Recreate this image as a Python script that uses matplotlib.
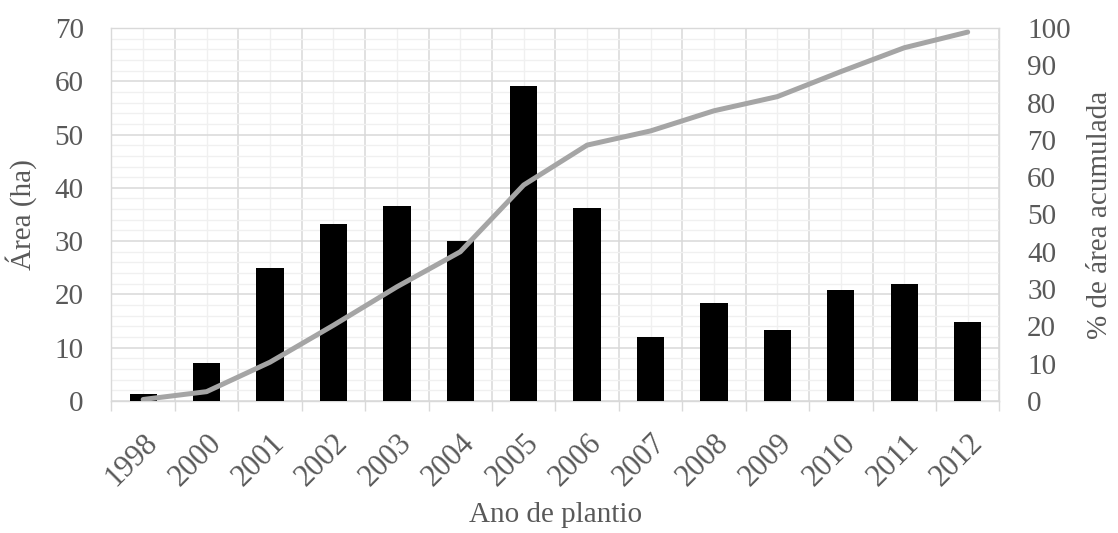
import matplotlib
matplotlib.use("Agg")
import matplotlib.pyplot as plt
import matplotlib.transforms as mtrans
import numpy as np

years = ["1998", "2000", "2001", "2002", "2003", "2004", "2005", "2006",
         "2007", "2008", "2009", "2010", "2011", "2012"]
area_ha = [1.3, 7.1, 25.0, 33.3, 36.6, 30.1, 59.2, 36.3, 12.1, 18.3, 13.4, 20.9, 21.9, 14.9]
pct_acum = [0.4, 2.5, 10.4, 20.3, 30.6, 40.0, 57.9, 68.6, 72.4, 77.8, 81.6, 88.3, 94.7, 98.9]
left_ticks = [0, 10, 20, 30, 40, 50, 60, 70]
right_ticks = [0, 10, 20, 30, 40, 50, 60, 70, 80, 90, 100]

plt.rcParams['font.family'] = ['Liberation Serif', 'DejaVu Serif']
FS = 21
TXT = '#595959'
MAJ = '#d9d9d9'
MIN = '#f0f0f0'

fig = plt.figure(figsize=(11.18, 5.33), dpi=100)
ax = fig.add_axes([0.0997, 0.2477, 0.8939 - 0.0997, 0.9475 - 0.2477])

x = np.arange(len(years))
ax.bar(x, area_ha, width=0.43, color='black', zorder=3)

ax.set_xlim(-0.5, len(years) - 0.5)
ax.set_ylim(0, 70)
ax.set_yticks(left_ticks)
ax.set_yticks(np.arange(0, 71, 2), minor=True)
major_x = np.arange(-0.5, len(years), 1.0)
ax.set_xticks(major_x)
ax.set_xticks(x, minor=True)
ax.set_xticklabels([''] * len(major_x))
ax.set_xticklabels(years, minor=True, rotation=45, ha='right', va='top',
                   rotation_mode='anchor', fontsize=22, color=TXT)
shift = mtrans.ScaledTranslation(5 / 100, 0, fig.dpi_scale_trans)
for lab in ax.get_xticklabels(minor=True):
    lab.set_transform(lab.get_transform() + shift)

ax.grid(which='major', color=MAJ, linewidth=1.1, zorder=0)
ax.grid(which='minor', color=MIN, linewidth=1.0, zorder=0)
ax.set_axisbelow(True)

ax.tick_params(axis='x', which='major', length=7, width=1, color=MAJ, direction='out')
ax.tick_params(axis='x', which='minor', length=0, pad=20)
ax.tick_params(axis='y', which='both', length=0, labelsize=FS, labelcolor=TXT, pad=20)
for s in ax.spines.values():
    s.set_color(MAJ)
    s.set_linewidth(1.0)

ax.set_ylabel('Área (ha)', fontsize=FS, color=TXT, labelpad=13)
ax.set_xlabel('Ano de plantio', fontsize=FS, color=TXT, labelpad=7)

ax2 = ax.twinx()
ax2.plot(x, pct_acum, color='#a5a5a5', linewidth=3.6, solid_capstyle='round',
         solid_joinstyle='round', zorder=4)
ax2.set_ylim(0, 100)
ax2.set_yticks(right_ticks)
ax2.tick_params(axis='y', length=0, labelsize=FS, labelcolor=TXT, pad=20)
for s in ax2.spines.values():
    s.set_visible(False)
ax2.set_ylabel('% de área acumulada', fontsize=FS, color=TXT, labelpad=12)

fig.savefig('out.png', dpi=100)
